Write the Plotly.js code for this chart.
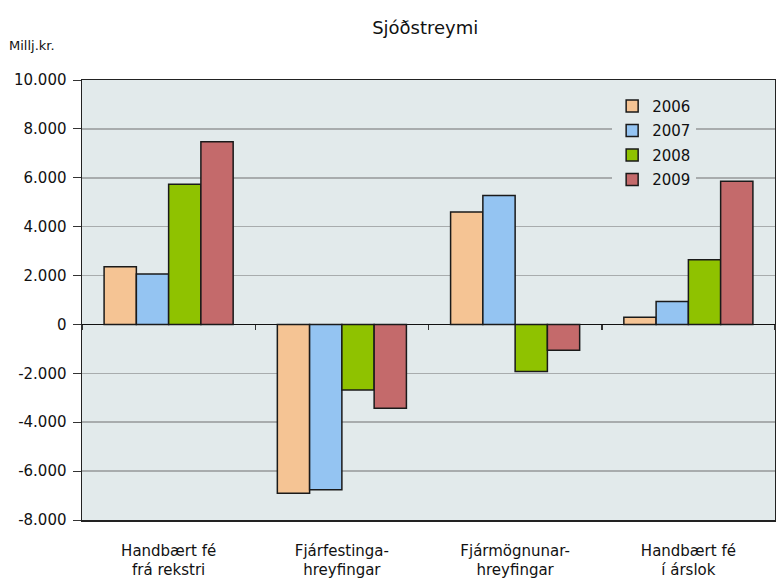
<!DOCTYPE html>
<html>
<head>
<meta charset="utf-8">
<script src="https://cdn.plot.ly/plotly-3.0.1.min.js"></script>
<style>html,body{margin:0;padding:0;background:#fff;}#chart{width:776px;height:579px;}</style>
</head>
<body>
<div id="chart"></div>
<script>
const categories = ["Handbært fé<br>frá rekstri", "Fjárfestinga-<br>hreyfingar", "Fjármögnunar-<br>hreyfingar", "Handbært fé<br>í árslok"];
const years = ["2006", "2007", "2008", "2009"];
const v2006 = [2360, -6910, 4600, 290];
const v2007 = [2060, -6760, 5280, 940];
const v2008 = [5740, -2680, -1920, 2650];
const v2009 = [7475, -3430, -1060, 5860];
const yTickVals = [-8000, -6000, -4000, -2000, 0, 2000, 4000, 6000, 8000, 10000];
const yTickText = ["-8.000", "-6.000", "-4.000", "-2.000", "0", "2.000", "4.000", "6.000", "8.000", "10.000"];

const series = [v2006, v2007, v2008, v2009];
const colors = ["#f5c494", "#94c4f2", "#8fc200", "#c46a6b"];
const font = "DejaVu Sans, Verdana, sans-serif";

const traces = series.map((vals, i) => ({
  type: "bar",
  name: years[i],
  legendgroup: "g" + i,
  x: categories,
  y: vals,
  marker: {color: colors[i], line: {color: "#1a1a1a", width: 1.5}},
  hoverinfo: "skip"
}));
// invisible trace to carry the tick-mark axis at zero
traces.push({
  type: "bar", x: categories, y: v2006, xaxis: "x2", yaxis: "y",
  marker: {color: "rgba(0,0,0,0)"}, showlegend: false, hoverinfo: "skip"
});

const layout = {
  width: 776, height: 579,
  margin: {l: 82, r: 1, t: 80, b: 59},
  paper_bgcolor: "#ffffff",
  plot_bgcolor: "#e2eaeb",
  font: {family: font, size: 15, color: "#111"},
  title: {text: "Sjóðstreymi", font: {family: font, size: 18, color: "#111"}, x: 0.548, xanchor: "center", y: 0.952, yanchor: "middle"},
  barmode: "group",
  bargap: 0.255,
  bargroupgap: 0,
  showlegend: true,
  legend: {
    x: 0.765, y: 0.978, xanchor: "left", yanchor: "top",
    bgcolor: "#e2eaeb", borderwidth: 0,
    font: {family: font, size: 15, color: "#111"},
    traceorder: "grouped", itemwidth: 30, tracegroupgap: 2
  },
  xaxis: {
    type: "category",
    showline: true, linecolor: "#222", linewidth: 1.5, mirror: true,
    ticks: "", showgrid: false, zeroline: false,
    ticklabelstandoff: 16,
    tickfont: {family: font, size: 15, color: "#111"},
    fixedrange: true
  },
  xaxis2: {
    type: "category", overlaying: "x", anchor: "free", position: 8/18,
    matches: "x",
    showline: false, ticks: "outside", tickson: "boundaries", ticklen: 5,
    tickcolor: "#333", tickwidth: 1.5,
    showticklabels: false, showgrid: false, zeroline: false
  },
  yaxis: {
    range: [-8000, 10000],
    tickvals: yTickVals, ticktext: yTickText,
    ticks: "outside", ticklen: 8, tickcolor: "#333", tickwidth: 1,
    ticklabelstandoff: 3,
    showline: true, linecolor: "#222", linewidth: 1.5, mirror: true,
    showgrid: true, gridcolor: "#a8acad", gridwidth: 1.5,
    zeroline: true, zerolinecolor: "#111", zerolinewidth: 1.5,
    tickfont: {family: font, size: 15, color: "#111"},
    fixedrange: true
  },
  annotations: [{
    text: "Millj.kr.", xref: "paper", yref: "paper", x: -0.108, y: 1.078,
    xanchor: "left", yanchor: "middle", showarrow: false,
    font: {family: font, size: 13, color: "#111"}
  }]
};

Plotly.newPlot("chart", traces, layout, {displayModeBar: false, staticPlot: true});
</script>
</body>
</html>
